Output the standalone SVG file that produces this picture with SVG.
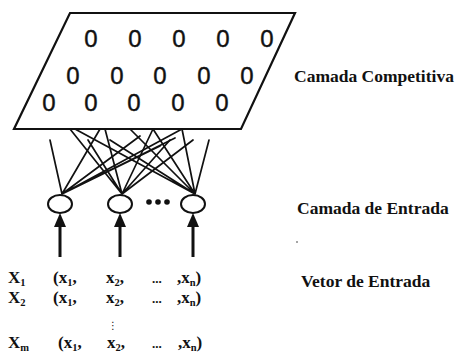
<svg xmlns="http://www.w3.org/2000/svg" width="458" height="358" viewBox="0 0 458 358">
<style>
.z{font-family:"Liberation Sans",Arial,sans-serif;font-size:24px;fill:#111;stroke:#111;stroke-width:0.4;text-anchor:middle}
.lbl{font-family:"Liberation Serif","Times New Roman",serif;font-size:17.5px;font-weight:bold;fill:#111}
.v{font-family:"Liberation Serif","Times New Roman",serif;font-size:17px;font-weight:bold;fill:#111}
.s{font-size:10.5px}
.e{font-family:"Liberation Serif",serif;font-size:13px;font-weight:bold;fill:#111}
.ln{stroke:#111;stroke-width:1.7;fill:none;stroke-linecap:round}
.nd{fill:#fff;stroke:#111;stroke-width:2}
</style>
<rect width="458" height="358" fill="#fff"/>
<g id="competitive-layer">
<polygon points="70,13 295,13 241,129 14,129" fill="#fff" stroke="#111" stroke-width="2.2"/>
<text class="z" x="91" y="47">0</text><text class="z" x="135" y="47">0</text><text class="z" x="179" y="47">0</text><text class="z" x="223" y="47">0</text><text class="z" x="267" y="47">0</text>
<text class="z" x="73" y="84">0</text><text class="z" x="117" y="84">0</text><text class="z" x="160" y="84">0</text><text class="z" x="204" y="84">0</text><text class="z" x="247" y="84">0</text>
<text class="z" x="49" y="111">0</text><text class="z" x="91" y="111">0</text><text class="z" x="134" y="111">0</text><text class="z" x="178" y="111">0</text><text class="z" x="222" y="111">0</text>
</g>
<g id="connectors">
<path class="ln" d="M62,194 L50,140 M62,194 L100,129 M62,194 L140,136 M62,194 L160,146 M62,194 L182,129 M62,194 L175,138"/>
<path class="ln" d="M122,194 L70,129 M122,194 L88,140 M122,194 L105,129 M122,194 L153,129 M122,194 L170,140 M122,194 L193,140"/>
<path class="ln" d="M195,194 L75,129 M195,194 L110,140 M195,194 L130,129 M195,194 L182,129 M195,194 L153,129 M195,194 L209,140"/>
<path d="M60,257 V226 M120,257 V226 M193,257 V226" stroke="#111" stroke-width="3"/>
<polygon points="60,213 54,227 66,227" fill="#111"/>
<polygon points="120,213 114,227 126,227" fill="#111"/>
<polygon points="193,213 187,227 199,227" fill="#111"/>
</g>
<g id="input-1"><ellipse class="nd" cx="60" cy="204" rx="12" ry="9"/></g>
<g id="input-2"><ellipse class="nd" cx="120" cy="204" rx="12" ry="9"/></g>
<g id="input-ellipsis"><circle cx="149" cy="202" r="2.8" fill="#111"/><circle cx="158" cy="202" r="2.8" fill="#111"/><circle cx="167" cy="202" r="2.8" fill="#111"/></g>
<g id="input-n"><ellipse class="nd" cx="193" cy="204" rx="12" ry="9"/></g>
<g id="labels">
<text class="lbl" x="294" y="82">Camada Competitiva</text>
<text class="lbl" x="297" y="214">Camada de Entrada</text>
<circle cx="297" cy="242" r="0.8" fill="#333"/>
<text class="lbl" x="301" y="287">Vetor de Entrada</text>
</g>
<g id="vectors">
<text class="v" x="8" y="283">X<tspan class="s" dy="3">1</tspan></text>
<text class="v" x="53" y="283">(x<tspan class="s" dy="3">1</tspan><tspan dy="-3">,</tspan></text>
<text class="v" x="106" y="283">x<tspan class="s" dy="3">2</tspan><tspan dy="-3">,</tspan></text>
<text class="e" x="152" y="283">...</text>
<text class="v" x="177" y="283">,x<tspan class="s" dy="3">n</tspan><tspan dy="-3">)</tspan></text>
<text class="v" x="8" y="303">X<tspan class="s" dy="3">2</tspan></text>
<text class="v" x="53" y="303">(x<tspan class="s" dy="3">1</tspan><tspan dy="-3">,</tspan></text>
<text class="v" x="106" y="303">x<tspan class="s" dy="3">2</tspan><tspan dy="-3">,</tspan></text>
<text class="e" x="152" y="303">...</text>
<text class="v" x="177" y="303">,x<tspan class="s" dy="3">n</tspan><tspan dy="-3">)</tspan></text>
<text x="113" y="329" style="font-family:'DejaVu Sans',sans-serif;font-size:10px;fill:#111" text-anchor="middle">⋮</text>
<text class="v" x="8" y="348">X<tspan class="s" dy="3">m</tspan></text>
<text class="v" x="58" y="348">(x<tspan class="s" dy="3">1</tspan><tspan dy="-3">,</tspan></text>
<text class="v" x="107" y="348">x<tspan class="s" dy="3">2</tspan><tspan dy="-3">,</tspan></text>
<text class="e" x="152" y="348">...</text>
<text class="v" x="178" y="348">,x<tspan class="s" dy="3">n</tspan><tspan dy="-3">)</tspan></text>
</g>
</svg>
